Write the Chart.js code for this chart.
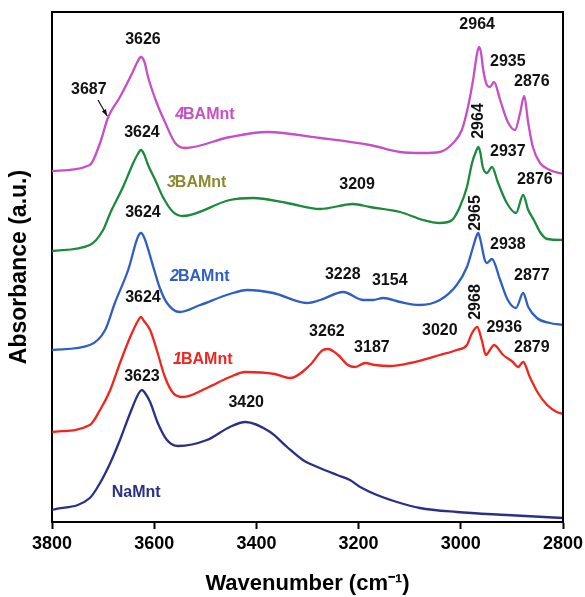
<!DOCTYPE html>
<html>
<head>
<meta charset="utf-8">
<script src="https://cdn.jsdelivr.net/npm/chart.js@4/dist/chart.umd.min.js"></script>
<style>
html,body{margin:0;padding:0;background:#fff;}
#wrap{width:585px;height:597px;position:relative;}
</style>
</head>
<body>
<div id="wrap"><canvas id="c" width="585" height="597"></canvas></div>
<script>
// ---- data (wavenumber in cm-1, absorbance in arbitrary offset units) ----
const xTicks = [3800, 3600, 3400, 3200, 3000, 2800];

const bam4Wn  = [3800,3726,3706,3690,3667,3643,3633,3626,3619,3612,3595,3579,3559,3540,3452,3379,3275,3178,3119,3074,3041,3015,2998,2986,2976,2968,2964,2960,2957,2949,2943,2935,2923,2908,2894,2884,2876,2868,2859,2845,2826,2800];
const bam4Abs = [3.51,3.57,3.79,4.05,4.25,4.49,4.60,4.65,4.60,4.45,4.19,4.00,3.79,3.74,3.85,3.90,3.84,3.77,3.70,3.69,3.70,3.79,3.92,4.15,4.42,4.69,4.75,4.68,4.55,4.37,4.35,4.40,4.22,4.00,3.92,4.09,4.26,3.99,3.75,3.59,3.52,3.48];

const bam3Wn  = [3800,3726,3700,3686,3661,3641,3632,3626,3620,3612,3598,3583,3563,3544,3452,3407,3340,3275,3211,3178,3119,3074,3041,3017,3002,2988,2978,2970,2966,2962,2957,2949,2939,2927,2910,2892,2878,2868,2857,2845,2831,2800];
const bam3Abs = [2.71,2.77,2.92,3.09,3.35,3.59,3.68,3.72,3.68,3.57,3.42,3.25,3.10,3.06,3.22,3.24,3.19,3.13,3.18,3.15,3.10,3.02,2.99,3.02,3.15,3.35,3.59,3.71,3.75,3.70,3.55,3.49,3.55,3.39,3.19,3.09,3.27,3.12,3.02,2.90,2.83,2.82];

const bam2Wn  = [3800,3726,3696,3677,3651,3632,3626,3620,3600,3589,3575,3550,3510,3452,3418,3367,3301,3275,3230,3191,3172,3152,3119,3080,3041,3008,2988,2976,2970,2966,2962,2953,2949,2939,2923,2908,2892,2878,2868,2851,2826,2800];
const bam2Abs = [1.72,1.77,1.92,2.19,2.52,2.85,2.89,2.85,2.52,2.34,2.19,2.10,2.17,2.28,2.32,2.29,2.19,2.22,2.30,2.22,2.22,2.24,2.20,2.17,2.22,2.37,2.55,2.75,2.85,2.89,2.83,2.62,2.59,2.63,2.42,2.22,2.14,2.29,2.15,2.04,1.99,1.97];

const bam1Wn  = [3800,3726,3706,3686,3667,3647,3632,3626,3620,3608,3595,3579,3563,3544,3497,3452,3422,3364,3334,3295,3270,3260,3240,3221,3207,3187,3168,3139,3099,3041,3008,2988,2978,2968,2959,2951,2943,2935,2917,2898,2888,2878,2865,2849,2831,2812,2800];
const bam1Abs = [0.90,0.97,1.12,1.32,1.59,1.85,2.01,2.05,2.01,1.92,1.72,1.45,1.29,1.25,1.34,1.45,1.50,1.48,1.44,1.57,1.72,1.73,1.67,1.57,1.55,1.59,1.57,1.56,1.59,1.67,1.72,1.77,1.89,1.95,1.82,1.67,1.72,1.77,1.67,1.60,1.55,1.60,1.45,1.29,1.17,1.10,1.08];

const naWn  = [3800,3726,3706,3686,3667,3647,3630,3624,3618,3608,3593,3575,3553,3497,3452,3422,3373,3340,3309,3276,3242,3217,3197,3164,3125,3080,3008,2910,2800];
const naAbs = [0.12,0.24,0.39,0.59,0.82,1.09,1.29,1.32,1.29,1.20,0.99,0.82,0.76,0.82,0.95,1.00,0.90,0.75,0.62,0.54,0.47,0.42,0.35,0.27,0.20,0.14,0.10,0.07,0.04];

const seriesNames  = ["4BAMnt", "3BAMnt", "2BAMnt", "1BAMnt", "NaMnt"];
const seriesColors = ["#c84fc3", "#1b8a3c", "#2f5fc4", "#f0261e", "#2b2f86"];
const labelColors  = ["#c84fc3", "#8c8a2e", "#2f5fc4", "#f0261e", "#2b2f86"];
const labelWn  = [3559, 3575, 3569, 3563, 3683];
const labelAbs = [4.07, 3.39, 2.45, 1.62, 0.29];

const peakText = ["3626","3687","3624","3624","3624","3623","3420","2964","2935","2876","2964","2937","2876","3209","2965","2938","3228","3154","2877","2968","3262","3187","3020","2936","2879"];
const peakWn   = [3622,3728,3624,3622,3622,3624,3420,2968,2908,2861,2966,2908,2855,3203,2972,2908,3231,3139,2861,2972,3262,3174,3041,2915,2861];
const peakAbs  = [4.82,4.32,3.89,3.09,2.24,1.45,1.19,4.97,4.60,4.40,4.01,3.70,3.42,3.37,3.09,2.77,2.47,2.41,2.46,2.20,1.90,1.74,1.91,1.94,1.74];
const peakVertical = [0,0,0,0,0,0,0,0,0,0,1,0,0,0,1,0,0,0,0,1,0,0,0,0,0];

// ---- build chart ----
const seriesWn  = [bam4Wn, bam3Wn, bam2Wn, bam1Wn, naWn];
const seriesAbs = [bam4Abs, bam3Abs, bam2Abs, bam1Abs, naAbs];

const datasets = seriesNames.map((name, i) => ({
  label: name,
  data: seriesWn[i].map((w, k) => ({x: w, y: seriesAbs[i][k]})),
  borderColor: seriesColors[i],
  backgroundColor: seriesColors[i],
  borderWidth: 2.3,
  pointRadius: 0,
  fill: false,
  cubicInterpolationMode: 'monotone'
}));

const FONT = "'Liberation Sans', Arial, Helvetica, sans-serif";

const framePlugin = {
  id: 'frame',
  afterDatasetsDraw(chart) {
    const {ctx, chartArea: a} = chart;
    ctx.save();
    ctx.strokeStyle = '#000';
    ctx.lineWidth = 2;
    ctx.beginPath();
    ctx.moveTo(a.left, a.top);
    ctx.lineTo(a.right, a.top);
    ctx.lineTo(a.right, a.bottom);
    ctx.stroke();
    ctx.restore();
  }
};

const textPlugin = {
  id: 'texts',
  afterDatasetsDraw(chart) {
    const {ctx, scales: {x, y}} = chart;
    ctx.save();
    // peak labels
    ctx.fillStyle = '#111';
    ctx.font = 'bold 16px ' + FONT;
    ctx.textAlign = 'center';
    ctx.textBaseline = 'middle';
    peakText.forEach((t, i) => {
      const px = x.getPixelForValue(peakWn[i]);
      const py = y.getPixelForValue(peakAbs[i]);
      if (peakVertical[i]) {
        ctx.save();
        ctx.translate(px, py);
        ctx.rotate(-Math.PI / 2);
        ctx.fillText(t, 0, 0);
        ctx.restore();
      } else {
        ctx.fillText(t, px, py);
      }
    });
    // arrow for 3687 shoulder
    const ax1 = x.getPixelForValue(3710), ay1 = y.getPixelForValue(4.22);
    const ax2 = x.getPixelForValue(3692), ay2 = y.getPixelForValue(4.06);
    ctx.strokeStyle = '#111';
    ctx.lineWidth = 1.2;
    ctx.beginPath();
    ctx.moveTo(ax1, ay1);
    ctx.lineTo(ax2, ay2);
    ctx.stroke();
    const ang = Math.atan2(ay2 - ay1, ax2 - ax1);
    ctx.beginPath();
    ctx.moveTo(ax2, ay2);
    ctx.lineTo(ax2 - 7 * Math.cos(ang - 0.35), ay2 - 7 * Math.sin(ang - 0.35));
    ctx.lineTo(ax2 - 7 * Math.cos(ang + 0.35), ay2 - 7 * Math.sin(ang + 0.35));
    ctx.closePath();
    ctx.fillStyle = '#111';
    ctx.fill();
    // series labels
    ctx.textAlign = 'left';
    seriesNames.forEach((name, i) => {
      let px = x.getPixelForValue(labelWn[i]);
      const py = y.getPixelForValue(labelAbs[i]);
      ctx.fillStyle = labelColors[i];
      const m = name.match(/^(\d)(.*)$/);
      if (m) {
        ctx.font = 'italic bold 16px ' + FONT;
        ctx.fillText(m[1], px, py);
        px += ctx.measureText(m[1]).width - 1;
        ctx.font = 'bold 16px ' + FONT;
        ctx.fillText(m[2], px, py);
      } else {
        ctx.font = 'bold 16px ' + FONT;
        ctx.fillText(name, px, py);
      }
    });
    ctx.restore();
  }
};

new Chart(document.getElementById('c'), {
  type: 'line',
  data: {datasets},
  options: {
    responsive: false,
    animation: false,
    events: [],
    layout: {padding: {top: 12, right: 22, left: 0, bottom: 0}},
    plugins: {legend: {display: false}, tooltip: {enabled: false}},
    scales: {
      x: {
        type: 'linear',
        min: 2800, max: 3800,
        reverse: true,
        afterBuildTicks(scale) { scale.ticks = xTicks.map(v => ({value: v})); },
        afterFit(scale) { scale.height = 75; scale.paddingLeft = 0; scale.paddingRight = 0; },
        ticks: {
          color: '#000',
          font: {family: FONT, size: 18, weight: 'bold'},
          padding: 4,
          maxRotation: 0,
          autoSkip: false,
          callback: (v) => String(v)
        },
        grid: {display: true, drawOnChartArea: false, drawTicks: true, tickLength: 7, tickColor: '#000', tickWidth: 2},
        border: {display: true, color: '#000', width: 2},
        title: {
          display: true,
          text: 'Wavenumber (cm\u207B\u00B9)',
          color: '#000',
          font: {family: FONT, size: 22, weight: 'bold'},
          padding: {top: 4, bottom: 0}
        }
      },
      y: {
        type: 'linear',
        min: 0, max: 5.1,
        afterFit(scale) { scale.width = 52; },
        ticks: {display: false},
        grid: {display: false, drawTicks: false},
        border: {display: true, color: '#000', width: 2},
        title: {
          display: true,
          text: 'Absorbance (a.u.)',
          color: '#000',
          font: {family: FONT, size: 23, weight: 'bold'},
          padding: {top: 6, bottom: 0}
        }
      }
    }
  },
  plugins: [framePlugin, textPlugin]
});
</script>
</body>
</html>
